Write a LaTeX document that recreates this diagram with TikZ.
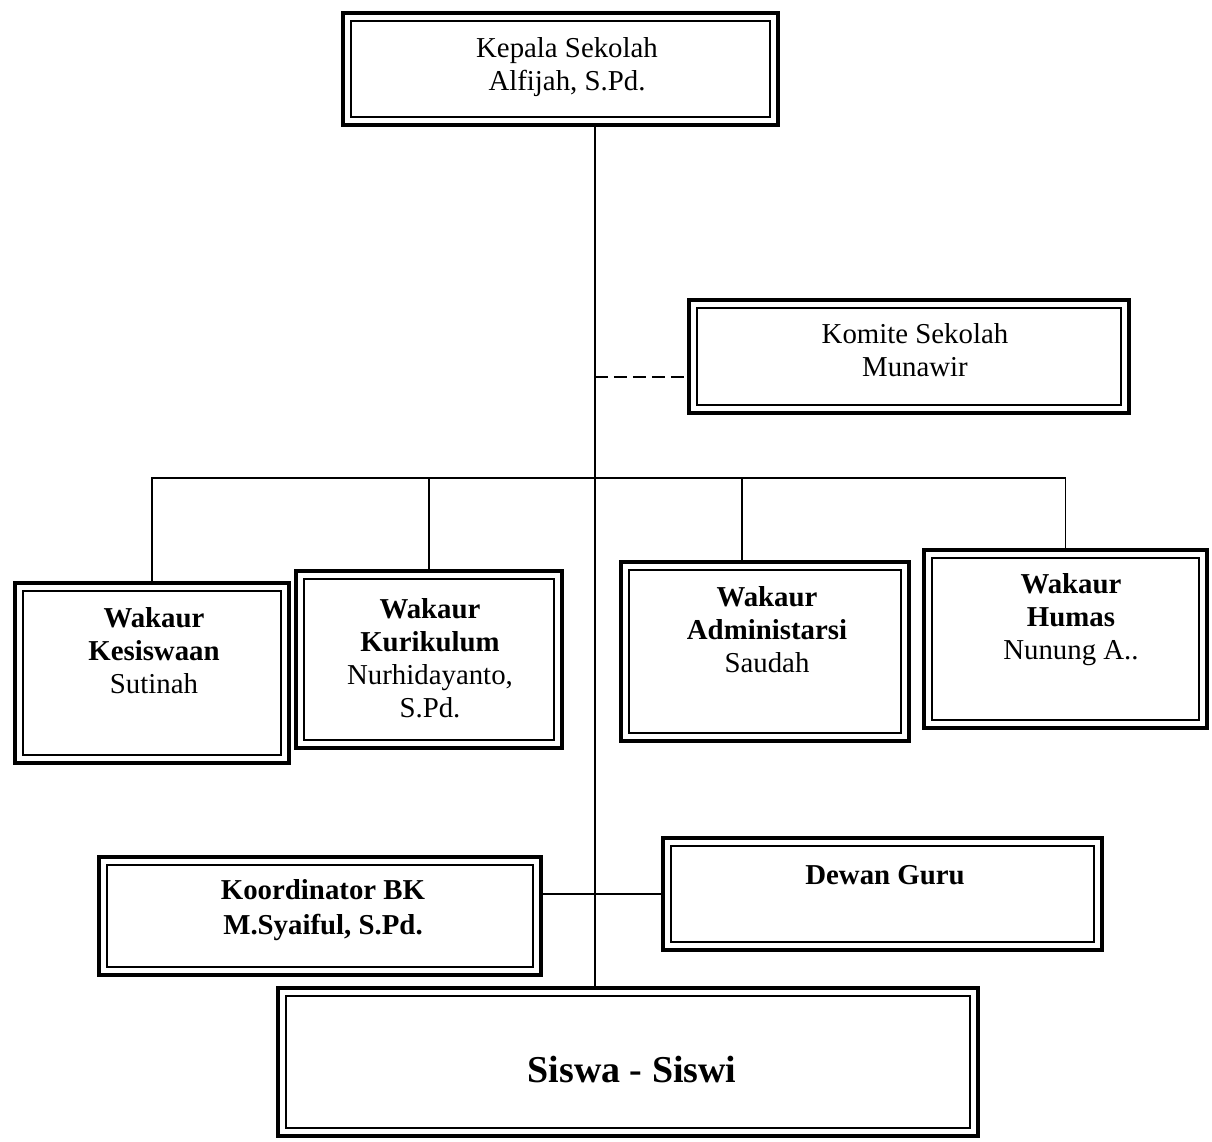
\documentclass[tikz,border=0pt]{standalone}
\usepackage{fontspec}
\setmainfont{Liberation Serif}
\usetikzlibrary{fit,calc}
\begin{document}
\begin{tikzpicture}[x=0.025cm,y=-0.025cm,
  orgbox/.style={draw,line width=3.5pt,inner sep=0pt,outer sep=0pt},
  innerline/.style={line width=1.2pt},
  txt/.style={align=center,inner sep=0pt,font=\fontsize{20.5}{23.5}\selectfont},
  bigtxt/.style={align=center,inner sep=0pt,font=\fontsize{27}{32}\selectfont\bfseries},
  conn/.style={line width=1.1pt},
  dashconn/.style={line width=1.1pt,dash pattern=on 9pt off 4.5pt}]
\useasboundingbox (0,0) rectangle (1212,1142);
% boxes
\node[orgbox,fit={(343,13)(778,125)}] (kep) {};
\node[orgbox,fit={(689,300)(1129,413)}] (kom) {};
\node[orgbox,fit={(15,583)(289,763)}] (kes) {};
\node[orgbox,fit={(296,571)(562,748)}] (kur) {};
\node[orgbox,fit={(621,562)(909,741)}] (adm) {};
\node[orgbox,fit={(924,550)(1207,728)}] (hum) {};
\node[orgbox,fit={(99,857)(541,975)}] (koo) {};
\node[orgbox,fit={(663,838)(1102,950)}] (dew) {};
\node[orgbox,fit={(278,988)(978,1136)}] (sis) {};
\foreach \n in {kep,kom,kes,kur,adm,hum,koo,dew,sis}
  \draw[innerline] ([shift={(8,8)}]\n.north west) rectangle ([shift={(-8,-8)}]\n.south east);
% texts
\node[txt] (tkep) at (567,67) {Kepala Sekolah\\Alfijah, S.Pd.};
\node[txt] (tkom) at (915,350) {Komite Sekolah\\Munawir};
\node[txt] (tkes) at (154,651) {\textbf{Wakaur}\\\textbf{Kesiswaan}\\Sutinah};
\node[txt] (tkur) at (430,658) {\textbf{Wakaur}\\\textbf{Kurikulum}\\Nurhidayanto,\\S.Pd.};
\node[txt] (tadm) at (767,630) {\textbf{Wakaur}\\\textbf{Administarsi}\\Saudah};
\node[txt] (thum) at (1071,620) {\textbf{Wakaur}\\\textbf{Humas}\\Nunung A..};
\node[txt,font=\fontsize{20.5}{24.5}\selectfont\bfseries] (tkoo) at (323,910) {Koordinator BK\\M.Syaiful, S.Pd.};
\node[txt,font=\fontsize{20.5}{24.5}\selectfont\bfseries] (tdew) at (885,875) {Dewan Guru};
\node[bigtxt] (tsis) at (632,1070) {Siswa - Siswi};
% connectors
\coordinate (trunk) at (595,0);
\coordinate (bus) at (0,478);
\draw[conn] (kep.south -| trunk) -- (sis.north -| trunk);
\coordinate (komin) at ($(kom.north west)!0.68!(kom.south west)$);
\draw[dashconn] (komin -| trunk) -- (komin);
\draw[conn] (kes.north) -- (kes.north |- bus) -- (hum.north |- bus) -- (hum.north);
\draw[conn] (kur.north |- bus) -- (kur.north);
\coordinate (admdrop) at ($(adm.north west)!0.42!(adm.north east)$);
\draw[conn] (admdrop |- bus) -- (admdrop);
\draw[conn] (dew.west -| koo.east) -- (dew.west);
\end{tikzpicture}
\end{document}
